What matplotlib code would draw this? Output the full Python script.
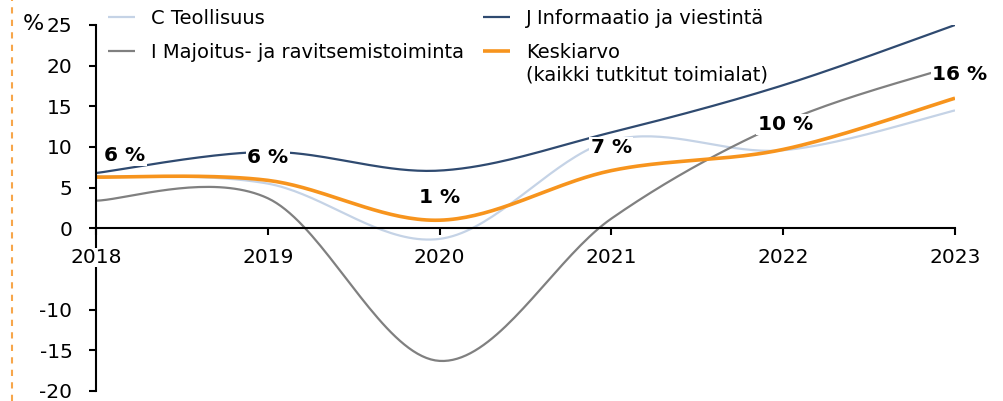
import numpy as np
import matplotlib
matplotlib.use("Agg")
import matplotlib.pyplot as plt
from matplotlib.lines import Line2D

# data (% change per year)
years = [2018, 2019, 2020, 2021, 2022, 2023]
teollisuus = [6.4, 5.5, -1.3, 10.8, 9.6, 14.5]
informaatio = [6.8, 9.4, 7.1, 11.8, 17.6, 25.0]
majoitus = [3.4, 3.7, -16.3, 1.2, 13.0, 20.0]
keskiarvo = [6.3, 5.9, 1.0, 7.1, 9.7, 16.0]
value_labels = ["6 %", "6 %", "1 %", "7 %", "10 %", "16 %"]
yticks = [25, 20, 15, 10, 5, 0, -10, -15, -20]


def smooth(x, y, n=40):
    """Excel-style smoothed line (Catmull-Rom as cubic Bezier segments)."""
    pts = np.column_stack([x, y]).astype(float)
    P = np.vstack([pts[0], pts, pts[-1]])
    t = np.linspace(0, 1, n)[:, None]
    out = []
    for i in range(1, len(P) - 2):
        p0, p1, p2, p3 = P[i - 1], P[i], P[i + 1], P[i + 2]
        c1 = p1 + (p2 - p0) / 6
        c2 = p2 - (p3 - p1) / 6
        b = ((1 - t) ** 3 * p1 + 3 * (1 - t) ** 2 * t * c1
             + 3 * (1 - t) * t ** 2 * c2 + t ** 3 * p2)
        out.append(b)
    c = np.vstack(out)
    return c[:, 0], c[:, 1]


plt.rcParams['font.family'] = ['DejaVu Sans']
plt.rcParams['axes.unicode_minus'] = False

fig = plt.figure(figsize=(10.04, 4.01), dpi=100)
ax = fig.add_axes([96 / 1004, 1 - 391 / 401, (955 - 96) / 1004, (391 - 25) / 401])

series = [
    (teollisuus, '#c5d3e6', 1.6, 'C Teollisuus'),
    (majoitus, '#808080', 1.6, 'I Majoitus- ja ravitsemistoiminta'),
    (informaatio, '#2f4a70', 1.6, 'J Informaatio ja viestintä'),
    (keskiarvo, '#f7941d', 2.6, 'Keskiarvo'),
]
handles = []
for vals, col, lw, lab in series:
    sx, sy = smooth(years, vals)
    h, = ax.plot(sx, sy, color=col, lw=lw, label=lab, solid_capstyle='butt')
    handles.append(h)

# value labels for the average line
offsets = [(29, 22), (0, 23), (0, 23), (0, 23), (2, 25), (5, 24)]
for x, v, lab, off in zip(years, keskiarvo, value_labels, offsets):
    ax.annotate(lab, (x, v), xytext=off, textcoords='offset pixels',
                ha='center', va='center', fontsize=14.5, fontweight='bold',
                bbox=dict(facecolor='white', edgecolor='none', pad=1),
                zorder=6)

ax.set_xlim(2018, 2023)
ax.set_ylim(-20, 25)
ax.set_xticks(years)
ax.set_yticks(yticks)
ax.spines['top'].set_visible(False)
ax.spines['right'].set_visible(False)
ax.spines['bottom'].set_position(('data', 0))
ax.spines['left'].set_linewidth(1.5)
ax.spines['bottom'].set_linewidth(1.5)
ax.tick_params(axis='x', direction='out', length=5, width=1.5, pad=9, labelsize=14.5)
ax.tick_params(axis='y', direction='out', length=5, width=1.5, pad=12, labelsize=14.5)
for lab in ax.get_xticklabels():
    lab.set_bbox(dict(facecolor='white', edgecolor='none', pad=0))
ax.xaxis.set_zorder(5)

fig.text(33 / 1004, 1 - 24 / 401, '%', fontsize=16, ha='center', va='center')

leg = ax.legend(handles, [h.get_label() for h in handles], ncol=2,
                loc='upper left', bbox_to_anchor=(108 / 1004, 1 - 9 / 401),
                bbox_transform=fig.transFigure, frameon=False, fontsize=14,
                handlelength=1.4, handletextpad=0.8, columnspacing=1.0,
                labelspacing=0.75, borderpad=0, borderaxespad=0)

# second line of the average label, aligned under "Keskiarvo"
fig.canvas.draw()
bb = leg.get_texts()[3].get_window_extent()
fig.text(bb.x0 / 1004, (bb.y0 - 4) / 401, '(kaikki tutkitut toimialat)',
         fontsize=14, ha='left', va='top')

# dashed orange frame line on the left
fig.add_artist(Line2D([12 / 1004, 12 / 1004], [0, 1], transform=fig.transFigure,
                      color='#f7a64a', lw=1.5, ls=(0, (3, 3))))

fig.savefig('out.png', dpi=100)
